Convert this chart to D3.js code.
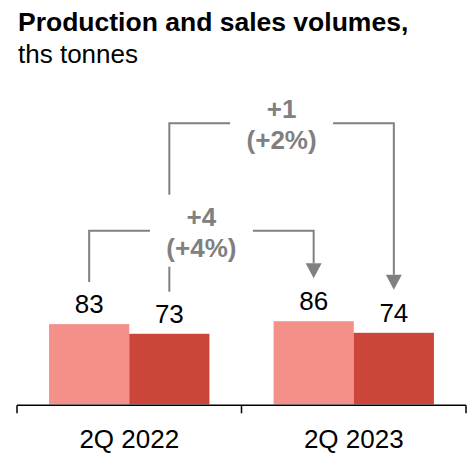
<!DOCTYPE html>
<html>
<head>
<meta charset="utf-8">
<script src="https://cdn.jsdelivr.net/npm/d3@7"></script>
<style>
  html, body { margin: 0; padding: 0; background: #fff; }
  svg { display: block; font-family: "Liberation Sans", Arial, sans-serif; }
</style>
</head>
<body>
<svg id="chart" width="467" height="453"></svg>
<script>
// Quarterly volumes, thousand tonnes
const categories = ["2Q 2022", "2Q 2023"];
const series = ["production", "sales"];
const production = [83, 86];
const sales = [73, 74];
const valueLabels = [["83", "73"], ["86", "74"]];

// Year-on-year change annotations per series
const changes = [
  { series: 0, delta: "+4", pct: "(+4%)" },
  { series: 1, delta: "+1", pct: "(+2%)" }
];

const colors = { production: "#f48f89", sales: "#cb4638" };
const grey = "#808080";

const svg = d3.select("#chart");

// Title
svg.append("text").attr("x", 18).attr("y", 31)
  .attr("font-size", 26.5).attr("font-weight", "bold").attr("fill", "#000")
  .text("Production and sales volumes,");
svg.append("text").attr("x", 18).attr("y", 63)
  .attr("font-size", 26).attr("fill", "#000")
  .text("ths tonnes");

// Scales
const x0 = d3.scaleBand().domain(categories).range([17, 466]).padding(0);
const x1 = d3.scaleBand().domain(series).range([0, x0.bandwidth()])
  .paddingInner(0).paddingOuter(0.4);
const y = d3.scaleLinear().domain([0, 100]).range([404.3, 307.7]);

const rows = categories.map((c, i) => ({
  cat: c,
  vals: [
    { key: "production", v: production[i], label: valueLabels[i][0] },
    { key: "sales", v: sales[i], label: valueLabels[i][1] }
  ]
}));

// Bars
const g = svg.append("g");
const groups = g.selectAll("g.grp").data(rows).join("g")
  .attr("class", "grp")
  .attr("transform", d => `translate(${x0(d.cat)},0)`);

groups.selectAll("rect").data(d => d.vals).join("rect")
  .attr("x", d => x1(d.key))
  .attr("width", x1.bandwidth())
  .attr("y", d => y(d.v))
  .attr("height", d => y(0) - y(d.v))
  .attr("fill", d => colors[d.key]);

groups.selectAll("text.val").data(d => d.vals).join("text")
  .attr("class", "val")
  .attr("x", d => x1(d.key) + x1.bandwidth() / 2)
  .attr("y", d => y(d.v) - 11)
  .attr("text-anchor", "middle")
  .attr("font-size", 26)
  .attr("fill", "#000")
  .text(d => d.label);

// Category axis: baseline with ticks at the band boundaries
const axisY = y(0) + 1;
const axis = d3.axisBottom(x0).tickSize(0).tickPadding(0);
const axG = svg.append("g").attr("transform", `translate(0,${axisY})`).call(axis);
axG.select(".domain").remove();
axG.selectAll(".tick text")
  .attr("font-size", 26)
  .attr("font-family", "Liberation Sans, Arial, sans-serif")
  .attr("fill", "#000")
  .attr("dy", null)
  .attr("y", 43);

const bounds = [x0.range()[0]].concat(categories.map(c => x0(c) + x0.bandwidth()));
svg.append("line")
  .attr("x1", bounds[0]).attr("x2", bounds[bounds.length - 1])
  .attr("y1", axisY).attr("y2", axisY)
  .attr("stroke", "#000").attr("stroke-width", 1.5);
svg.selectAll("line.tick").data(bounds).join("line")
  .attr("class", "tick")
  .attr("x1", d => d).attr("x2", d => d)
  .attr("y1", axisY).attr("y2", axisY + 8)
  .attr("stroke", "#000").attr("stroke-width", 1.5);

// Change brackets from the 2022 value to the 2023 value
const bracketY = [230.7, 123.3];
const labelGap = 42;
const ann = svg.append("g");

function seriesValues(s) { return s === 0 ? production : sales; }

changes.forEach((c, i) => {
  const key = series[c.series];
  const vals = seriesValues(c.series);
  const xa = x0(categories[0]) + x1(key) + x1.bandwidth() / 2;
  const xb = x0(categories[1]) + x1(key) + x1.bandwidth() / 2;
  const ya = y(vals[0]) - labelGap;
  const yb = y(vals[1]) - labelGap - 1;
  const hy = bracketY[i];
  const head = 15;
  ann.append("path")
    .attr("d", `M${xa},${ya}V${hy}H${xb}V${yb - head}`)
    .attr("fill", "none").attr("stroke", grey).attr("stroke-width", 2);
  ann.append("path")
    .attr("d", `M${xb - 8},${yb - head}L${xb + 8},${yb - head}L${xb},${yb}Z`)
    .attr("fill", grey);
});

// Labels sit on a white patch that breaks the lines behind them
changes.forEach((c, i) => {
  const key = series[c.series];
  const xa = x0(categories[0]) + x1(key) + x1.bandwidth() / 2;
  const xb = x0(categories[1]) + x1(key) + x1.bandwidth() / 2;
  const cx = (xa + xb) / 2;
  const hy = bracketY[i];
  ann.append("rect")
    .attr("x", cx - 51.5).attr("y", hy - 36)
    .attr("width", 103).attr("height", 72)
    .attr("fill", "#fff");
  ann.append("text").attr("x", cx).attr("y", hy - 5)
    .attr("text-anchor", "middle").attr("font-size", 26)
    .attr("font-weight", "bold").attr("fill", grey).text(c.delta);
  ann.append("text").attr("x", cx).attr("y", hy + 26)
    .attr("text-anchor", "middle").attr("font-size", 26)
    .attr("font-weight", "bold").attr("fill", grey).text(c.pct);
});
</script>
</body>
</html>
